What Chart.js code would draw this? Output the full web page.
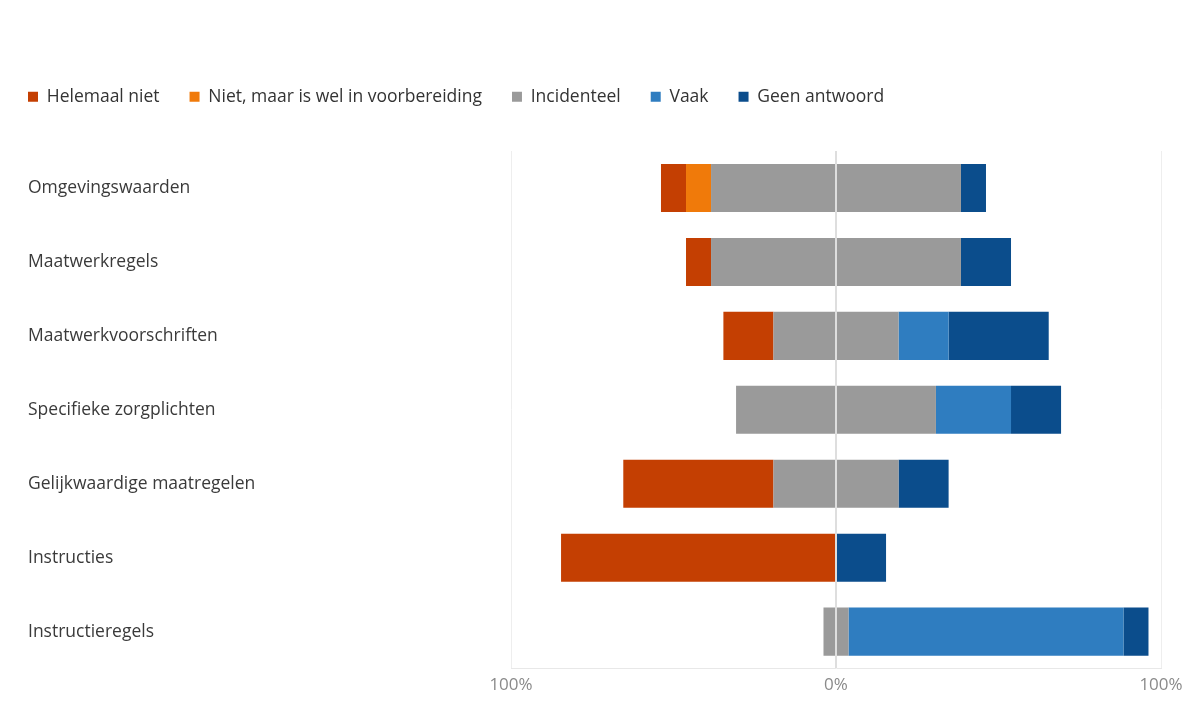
<!DOCTYPE html>
<html>
<head>
<meta charset="utf-8">
<script src="https://cdn.jsdelivr.net/npm/chart.js@4/dist/chart.umd.min.js"></script>
<style>
  html, body { margin: 0; padding: 0; background: #fff; }
  #wrap { width: 1189px; height: 708px; }
</style>
</head>
<body>
<div id="wrap"><canvas id="chart"></canvas></div>
<script>
// categorieen en percentages (aandeel van de antwoorden)
const categories = ['Omgevingswaarden', 'Maatwerkregels', 'Maatwerkvoorschriften', 'Specifieke zorgplichten',
    'Gelijkwaardige maatregelen', 'Instructies', 'Instructieregels'];
const helemaalNiet = [7.7, 7.7, 15.4, 0, 46.2, 84.6, 0];
const nietVoorbereiding = [7.7, 0, 0, 0, 0, 0, 0];
const incidenteel = [76.9, 76.9, 38.5, 61.5, 38.5, 0, 7.7];
const vaak = [0, 0, 15.4, 23.1, 0, 0, 84.6];
const geenAntwoord = [7.7, 15.4, 30.8, 15.4, 15.4, 15.4, 7.7];
const xTicks = [-100, 0, 100];

const colors = {
    helemaal: '#c43f02',
    niet: '#f07a0a',
    incid: '#9a9a9a',
    vaak: '#2f7dc0',
    geen: '#0b4d8c'
};

// incidenteel wordt rond 0 verdeeld: helft links, helft rechts
const half = arr => arr.map(v => v / 2);
const neg = arr => arr.map(v => -v);

const datasets = [
    { label: 'Incidenteel', data: neg(half(incidenteel)), backgroundColor: colors.incid, noLegend: true, order2: 2 },
    { label: 'Niet, maar is wel in voorbereiding', data: neg(nietVoorbereiding), backgroundColor: colors.niet, order2: 1 },
    { label: 'Helemaal niet', data: neg(helemaalNiet), backgroundColor: colors.helemaal, order2: 0 },
    { label: 'Incidenteel', data: half(incidenteel), backgroundColor: colors.incid, order2: 2 },
    { label: 'Vaak', data: vaak, backgroundColor: colors.vaak, order2: 3 },
    { label: 'Geen antwoord', data: geenAntwoord, backgroundColor: colors.geen, order2: 4 }
];
datasets.forEach(ds => {
    ds.barPercentage = 0.65;
    ds.categoryPercentage = 1;
    ds.borderWidth = 0;
});

const legendPad = 30;

// legenda: hoogte vastzetten en links uitlijnen met de labels
const legendSpace = {
    id: 'legendSpace',
    beforeInit(chart) {
        const origFit = chart.legend.fit;
        chart.legend.fit = function () {
            origFit.bind(chart.legend)();
            this.height = 93;
        };
    },
    afterLayout(chart) {
        chart.legend.left -= legendPad;
    }
};

const font = "'Open Sans', 'Noto Sans', sans-serif";

new Chart(document.getElementById('chart'), {
    type: 'bar',
    data: { labels: categories, datasets: datasets },
    options: {
        indexAxis: 'y',
        responsive: true,
        maintainAspectRatio: false,
        animation: false,
        layout: { padding: { top: 58, left: 28, right: 28, bottom: 7 } },
        plugins: {
            tooltip: { enabled: false },
            legend: {
                position: 'top',
                align: 'start',
                labels: {
                    font: { family: font, size: 17.5 },
                    color: '#333',
                    boxWidth: 10,
                    boxHeight: 10,
                    padding: legendPad,
                    filter: (item, data) => !data.datasets[item.datasetIndex].noLegend,
                    sort: (a, b, data) => data.datasets[a.datasetIndex].order2 - data.datasets[b.datasetIndex].order2
                }
            }
        },
        scales: {
            x: {
                stacked: true,
                min: -100,
                max: 100,
                z: 1,
                afterBuildTicks: scale => { scale.ticks = xTicks.map(v => ({ value: v })); },
                ticks: {
                    padding: 6,
                    color: '#8a8a8a',
                    font: { family: font, size: 17 },
                    callback: v => Math.abs(v) + '%'
                },
                grid: {
                    drawTicks: false,
                    color: ctx => (ctx.tick && ctx.tick.value === 0) ? '#dedede' : '#eeeeee',
                    lineWidth: ctx => (ctx.tick && ctx.tick.value === 0) ? 2 : 1
                },
                border: { display: true, color: '#e8e8e8' }
            },
            y: {
                stacked: true,
                afterFit: scale => { scale.width = 483; },
                ticks: {
                    crossAlign: 'far',
                    color: '#3a3a3a',
                    font: { family: font, size: 17.5 }
                },
                grid: { display: false },
                border: { display: false }
            }
        }
    },
    plugins: [legendSpace]
});
</script>
</body>
</html>
